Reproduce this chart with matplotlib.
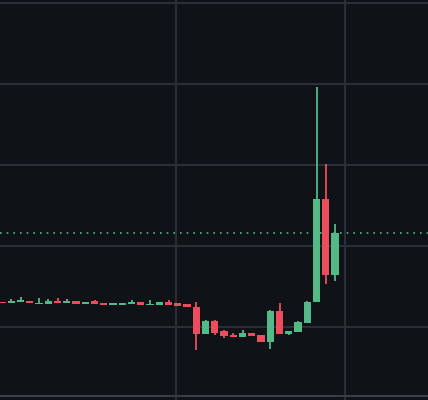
import matplotlib
matplotlib.use("Agg")
import matplotlib.pyplot as plt

# prices (arbitrary units)
opens = [98, 97, 98, 99, 96, 96, 99, 97, 99, 96, 99, 97, 95, 95, 96, 98, 95, 95, 98, 97, 96,
         93, 66, 79, 69, 65, 63, 67, 65, 58, 89, 66, 68, 77, 98, 201, 125]
highs = [98, 101, 103, 99, 102, 101, 102, 101, 99, 98, 100, 97, 97, 97, 100, 98, 100, 98, 100, 97, 96,
         98, 80, 80, 70, 67, 70, 67, 65, 90, 97, 69, 79, 99, 313, 236, 176]
lows = [97, 97, 98, 97, 96, 96, 97, 97, 96, 96, 96, 95, 95, 95, 96, 95, 95, 95, 95, 94, 93,
        50, 66, 65, 62, 63, 63, 64, 58, 51, 66, 65, 68, 77, 98, 116, 119]
closes = [97, 99, 100, 97, 97, 99, 97, 99, 96, 98, 96, 95, 97, 97, 98, 95, 96, 98, 95, 94, 93,
          66, 79, 67, 64, 63, 67, 64, 58, 89, 66, 69, 78, 98, 201, 125, 167]
last_price = closes[-1]

bg = "#0f1217"
grid = "#2a2e39"
up = "#53b987"
down = "#eb4d5c"

fig = plt.figure(figsize=(4.28, 4.0), dpi=100)
fig.patch.set_facecolor(bg)
ax = fig.add_axes([0, 0, 1, 1])
ax.set_facecolor(bg)

for i in range(len(opens)):
    c = up if closes[i] >= opens[i] else down
    ax.vlines(i, lows[i], highs[i], color=c, linewidth=1.3, zorder=3)
    lo = min(opens[i], closes[i])
    h = max(abs(closes[i] - opens[i]), 1.5)
    ax.bar(i, h, bottom=lo, width=0.8, color=c, zorder=3, linewidth=0)

ax.axhline(last_price, color=up, linestyle=(0, (1, 3)), linewidth=1.2, zorder=2)

ax.set_xlim(-0.22, 46.05)
ax.set_ylim(0, 400)
for y in [397, 316, 235, 154, 73]:
    ax.axhline(y, color=grid, linewidth=1.5, zorder=1)
for x in [18.8, 37.08]:
    ax.axvline(x, color=grid, linewidth=1.5, zorder=1)
ax.axhline(4, color="#3a3e48", linewidth=1.5, zorder=1)

ax.set_xticks([])
ax.set_yticks([])
for s in ax.spines.values():
    s.set_visible(False)

fig.savefig("out.png", dpi=100, facecolor=bg)
